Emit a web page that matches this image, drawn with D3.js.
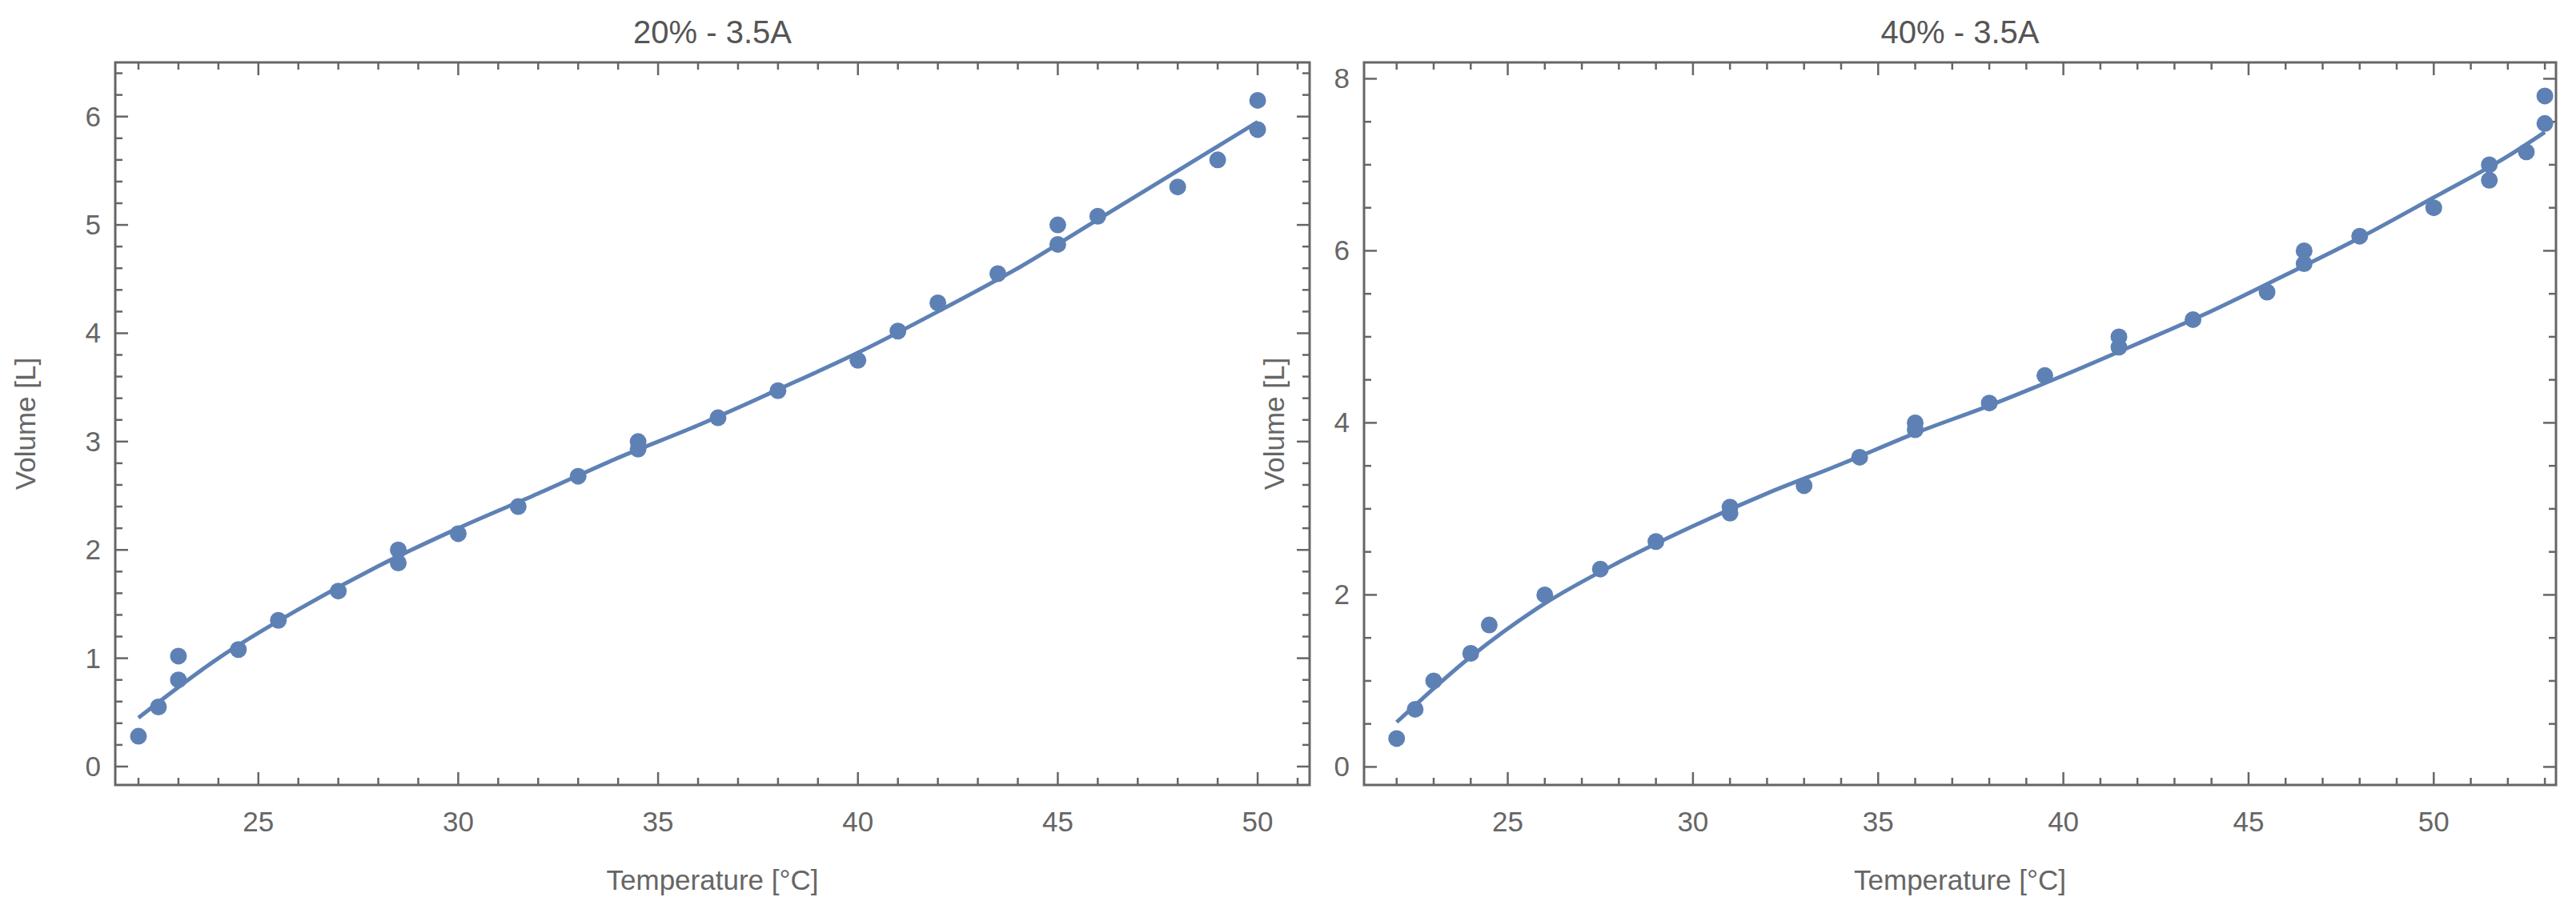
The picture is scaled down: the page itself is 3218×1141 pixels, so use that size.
<!DOCTYPE html>
<html><head><meta charset="utf-8">
<script src="https://cdn.jsdelivr.net/npm/d3@7"></script>
<style>body{margin:0;background:#fff}</style></head>
<body><svg id="c" width="3218" height="1141"></svg>
<script>
const titles=["20% - 3.5A","40% - 3.5A"];
const leftX=[22,22.5,23,23,24.5,25.5,27,28.5,28.5,30,31.5,33,34.5,34.5,36.5,38,40,41,42,43.5,45,45,46,48,49,50,50];
const leftY=[0.28,0.55,0.8,1.02,1.08,1.35,1.62,1.88,2.0,2.15,2.4,2.68,2.93,3.0,3.22,3.47,3.75,4.02,4.28,4.55,4.82,5.0,5.08,5.35,5.6,5.88,6.15];
const leftFitX=[22,24,26,28,30,32,34,36,38,40,42,44,46,48,50];
const leftFitY=[0.45,1.0,1.45,1.85,2.2,2.52,2.85,3.15,3.48,3.82,4.2,4.6,5.05,5.5,5.95];
const rightX=[22,22.5,23,24,24.5,26,27.5,29,31,31,33,34.5,36,36,38,39.5,41.5,41.5,43.5,45.5,46.5,46.5,48,50,51.5,51.5,52.5,53,53];
const rightY=[0.33,0.67,1.0,1.32,1.65,2.0,2.3,2.62,2.95,3.02,3.27,3.6,3.92,4.0,4.23,4.55,4.88,5.0,5.2,5.52,5.85,6.0,6.17,6.5,6.82,7.0,7.15,7.48,7.8];
const rightFitX=[22,24,26,28,30,32,34,36,38,40,42,44,46,48,50,52,53];
const rightFitY=[0.52,1.28,1.9,2.38,2.8,3.18,3.52,3.88,4.2,4.55,4.92,5.3,5.72,6.15,6.62,7.1,7.38];
const leftXTicks=[25,30,35,40,45,50], leftYTicks=[0,1,2,3,4,5,6];
const rightXTicks=[25,30,35,40,45,50], rightYTicks=[0,2,4,6,8];

const panels=[
 {t:titles[0],x:leftX,y:leftY,fx:leftFitX,fy:leftFitY,xd:[21.42,51.3],yd:[-0.17,6.5],xt:leftXTicks,yt:leftYTicks,xm:1,ym:0.2,box:[144,78,1636,981]},
 {t:titles[1],x:rightX,y:rightY,fx:rightFitX,fy:rightFitY,xd:[21.12,53.3],yd:[-0.21,8.19],xt:rightXTicks,yt:rightYTicks,xm:1,ym:0.5,box:[1704,78,3193,981]}
];
const svg=d3.select("#c"), col="#5E81B5", frame="#666", txt="#666", ff="Liberation Sans, Arial";
panels.forEach(p=>{
 const [x0,y0,x1,y1]=p.box;
 const xs=d3.scaleLinear().domain(p.xd).range([x0,x1]);
 const ys=d3.scaleLinear().domain(p.yd).range([y1,y0]);
 const g=svg.append("g");
 g.append("rect").attr("x",x0).attr("y",y0).attr("width",x1-x0).attr("height",y1-y0).attr("fill","none").attr("stroke",frame).attr("stroke-width",3);
 const xminor=d3.range(Math.ceil(p.xd[0]),p.xd[1],p.xm);
 const yminor=d3.range(Math.ceil(p.yd[0]/p.ym)*p.ym,p.yd[1],p.ym).map(v=>+v.toFixed(3));
 const isMaj=(v,arr)=>arr.some(a=>Math.abs(a-v)<1e-6);
 xminor.forEach(v=>{const L=isMaj(v,p.xt)?16:9,X=xs(v);
  g.append("line").attr("x1",X).attr("x2",X).attr("y1",y1).attr("y2",y1-L).attr("stroke",frame).attr("stroke-width",2.5);
  g.append("line").attr("x1",X).attr("x2",X).attr("y1",y0).attr("y2",y0+L).attr("stroke",frame).attr("stroke-width",2.5);});
 yminor.forEach(v=>{const L=isMaj(v,p.yt)?16:9,Y=ys(v);
  g.append("line").attr("x1",x0).attr("x2",x0+L).attr("y1",Y).attr("y2",Y).attr("stroke",frame).attr("stroke-width",2.5);
  g.append("line").attr("x1",x1).attr("x2",x1-L).attr("y1",Y).attr("y2",Y).attr("stroke",frame).attr("stroke-width",2.5);});
 p.xt.forEach(v=>g.append("text").attr("x",xs(v)).attr("y",y1+58).attr("text-anchor","middle").attr("font-family",ff).attr("font-size",35).attr("fill",txt).text(v));
 p.yt.forEach(v=>g.append("text").attr("x",x0-18).attr("y",ys(v)+12).attr("text-anchor","end").attr("font-family",ff).attr("font-size",35).attr("fill",txt).text(v));
 g.append("text").attr("x",(x0+x1)/2).attr("y",54).attr("text-anchor","middle").attr("font-family",ff).attr("font-size",40).attr("fill","#555").text(p.t);
 g.append("text").attr("x",(x0+x1)/2).attr("y",1112).attr("text-anchor","middle").attr("font-family",ff).attr("font-size",35).attr("fill",txt).text("Temperature [°C]");
 g.append("text").attr("transform",`translate(${x0-100},${(y0+y1)/2}) rotate(-90)`).attr("text-anchor","middle").attr("font-family",ff).attr("font-size",35).attr("fill",txt).text("Volume  [L]");
 const line=d3.line().x(d=>xs(d[0])).y(d=>ys(d[1])).curve(d3.curveMonotoneX);
 g.append("path").attr("d",line(p.fx.map((v,i)=>[v,p.fy[i]]))).attr("fill","none").attr("stroke",col).attr("stroke-width",5);
 g.selectAll(null).data(p.x.map((v,i)=>[v,p.y[i]])).enter().append("circle").attr("cx",d=>xs(d[0])).attr("cy",d=>ys(d[1])).attr("r",10.5).attr("fill",col);
});
</script></body></html>
